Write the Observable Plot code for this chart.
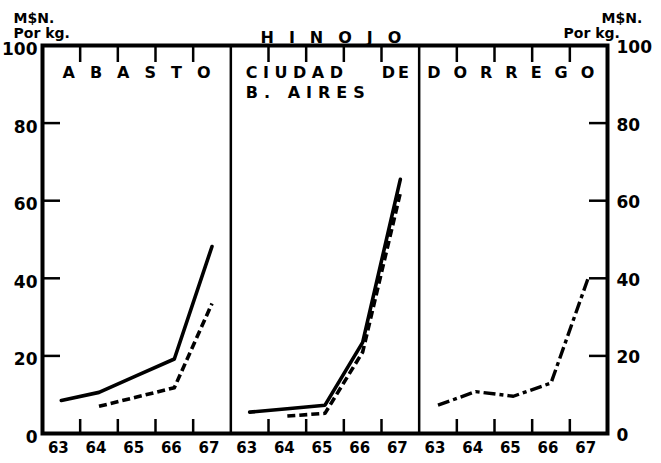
<!DOCTYPE html>
<html><head><meta charset="utf-8">
<script src="https://cdn.jsdelivr.net/npm/d3@7"></script>
<script src="https://cdn.jsdelivr.net/npm/@observablehq/plot@0.6"></script>
<style>
body{margin:0;background:#fff;}
#chart svg{display:block;}
</style></head><body><div id="chart"></div>
<script>
// ---- data ----
const years = [63, 64, 65, 66, 67];
const panelNames = ["ABASTO", "CIUDAD", "DE", "B. AIRES", "DORREGO"];
const title = "HINOJO";
const unitTop = "M$N.";
const unitBottom = "Por kg.";
const abastoSolid   = [8.5, 10.6, 14.9, 19.2, 48.2];
const abastoDashed  = [null, 7.0, 9.4, 11.8, 33.5];
const ciudadSolid   = [5.5, 6.4, 7.3, 23.5, 65.5];
const ciudadDashed  = [null, 4.5, 5.2, 21.0, 62.0];
const dorregoDashDot = [7.3, 10.8, 9.6, 13.0, 40.4];
const yTicks = [0, 20, 40, 60, 80, 100];
const yInnerTicks = [20, 40, 60, 80];

// ---- build ----
const n = years.length;
const nPanels = 3;
const rows = (vals, p) => vals.map((v, i) => ({x: p * n + i, y: v})).filter(d => d.y != null);
const panelStart = p => p * n - 0.5;
const dividers = d3.range(1, nPanels).map(panelStart);
const innerX = d3.range(nPanels).flatMap(p => d3.range(n - 1).map(i => p * n + i + 0.5));
const allX = d3.range(nPanels * n);

const W = 661, H = 463, mL = 42, mR = 54, mT = 45, mB = 30;
const fW = W - mL - mR, fH = H - mT - mB;

const chart = Plot.plot({
  width: W, height: H,
  marginLeft: mL, marginRight: mR, marginTop: mT, marginBottom: mB,
  style: {fontFamily: "DejaVu Sans", fontWeight: "bold", background: "#fff", color: "#000"},
  x: {domain: [-0.5, nPanels * n - 0.5]},
  y: {domain: [0, 100]},
  marks: [
    Plot.frame({strokeWidth: 4}),
    Plot.ruleX(dividers, {strokeWidth: 2.5}),
    // inward ticks
    Plot.tickX(innerX, {insetTop: fH - 14, strokeWidth: 2.5}),
    Plot.tickX(innerX, {insetBottom: fH - 17, strokeWidth: 2.5}),
    Plot.tickY(yInnerTicks, {insetRight: fW - 18, strokeWidth: 2.5}),
    Plot.tickY(yInnerTicks, {insetLeft: fW - 18, strokeWidth: 2.5}),
    // axis labels
    Plot.axisX({anchor: "bottom", ticks: allX, tickSize: 0, tickPadding: 9, dx: -3, fontSize: 15, tickFormat: i => years[i % n], label: null}),
    Plot.axisY({anchor: "left", ticks: yTicks, tickSize: 0, tickPadding: 5, dy: 4, fontSize: 17, label: null}),
    Plot.axisY({anchor: "right", ticks: yTicks, tickSize: 0, tickPadding: 9, dy: 2, fontSize: 17, label: null}),
    // series
    Plot.line(rows(abastoSolid, 0), {x: "x", y: "y", strokeWidth: 3.6}),
    Plot.line(rows(abastoDashed, 0), {x: "x", y: "y", strokeWidth: 3.6, strokeDasharray: "8,4", strokeLinecap: "butt"}),
    Plot.line(rows(ciudadSolid, 1), {x: "x", y: "y", strokeWidth: 3.6}),
    Plot.line(rows(ciudadDashed, 1), {x: "x", y: "y", strokeWidth: 3.6, strokeDasharray: "8,4", strokeLinecap: "butt"}),
    Plot.line(rows(dorregoDashDot, 2), {x: "x", y: "y", strokeWidth: 3.4, strokeDasharray: "12,4,4,4", strokeLinecap: "butt"}),
    // units & title
    Plot.text([unitTop], {frameAnchor: "top-left", dx: -29, dy: -32, textAnchor: "start", fontSize: 14}),
    Plot.text([unitBottom], {frameAnchor: "top-left", dx: -29, dy: -17, textAnchor: "start", fontSize: 14}),
    Plot.text([unitTop], {frameAnchor: "top-right", dx: -6, dy: -32, textAnchor: "start", fontSize: 14}),
    Plot.text([unitBottom], {frameAnchor: "top-right", dx: -44, dy: -17, textAnchor: "start", fontSize: 14}),
    Plot.text([title], {frameAnchor: "top-left", dx: 218, dy: -14, textAnchor: "start", fontSize: 16}),
    // panel labels
    Plot.text([panelNames[0]], {x: panelStart(0), y: 100, dx: 20, dy: 27, textAnchor: "start", fontSize: 16}),
    Plot.text([panelNames[1]], {x: panelStart(1), y: 100, dx: 15, dy: 27, textAnchor: "start", fontSize: 16}),
    Plot.text([panelNames[2]], {x: panelStart(1), y: 100, dx: 151, dy: 27, textAnchor: "start", fontSize: 16}),
    Plot.text([panelNames[3]], {x: panelStart(1), y: 100, dx: 15, dy: 47, textAnchor: "start", fontSize: 16}),
    Plot.text([panelNames[4]], {x: panelStart(2), y: 100, dx: 8, dy: 27, textAnchor: "start", fontSize: 16})
  ]
});
// letter spacing of the hand-lettered labels
const spacing = new Map([["ABASTO", 15], ["CIUDAD", 5.5], ["DE", 3], ["B. AIRES", 6], ["DORREGO", 13], ["HINOJO", 15]]);
chart.querySelectorAll("text").forEach(t => {
  const s = spacing.get(t.textContent);
  if (s != null) t.setAttribute("letter-spacing", s + "px");
});
document.getElementById("chart").append(chart);
</script></body></html>
